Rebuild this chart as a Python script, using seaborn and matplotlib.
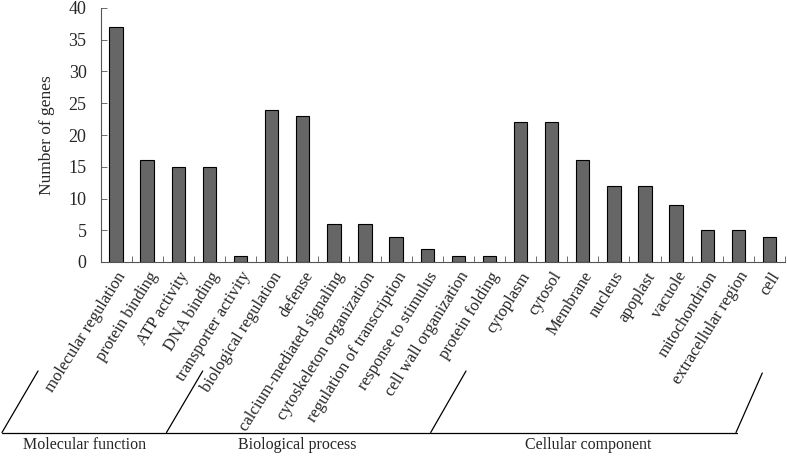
import numpy as np
import matplotlib
matplotlib.use("Agg")
import matplotlib.pyplot as plt
from matplotlib.lines import Line2D
import seaborn as sns

categories = ["molecular regulation", "protein binding", "ATP activity", "DNA binding",
              "transporter activity", "biological regulation", "defense",
              "calcium-mediated signaling", "cytoskeleton organization",
              "regulation of transcription", "response to stimulus",
              "cell wall organization", "protein folding", "cytoplasm", "cytosol",
              "Membrane", "nucleus", "apoplast", "vacuole", "mitochondrion",
              "extracellular region", "cell"]
counts = [37, 16, 15, 15, 1, 24, 23, 6, 6, 4, 2, 1, 1, 22, 22, 16, 12, 12, 9, 5, 5, 4]
groups = ["Molecular function", "Biological process", "Cellular component"]
yticks = [0, 5, 10, 15, 20, 25, 30, 35, 40]

sns.set_style("ticks")
plt.rcParams["font.family"] = ["Liberation Serif", "DejaVu Serif"]

W, H = 787, 457
fig = plt.figure(figsize=(W / 100, H / 100), dpi=100)
ax = fig.add_axes([100.5 / W, 1 - 262 / H, (785 - 100.5) / W, (262 - 8) / H])

sns.barplot(x=categories, y=counts, color="#666666", edgecolor="black",
            linewidth=0.8, width=0.43, saturation=1, ax=ax)

ax.set_xlim(-0.5, len(categories) - 0.5)
ax.set_ylim(0, 40)
ax.set_yticks(yticks)
ax.set_xticks(np.arange(-0.5, len(categories), 1), minor=True)
ax.set_xticks(range(len(categories)))
ax.set_xticklabels(categories, rotation=58, ha="right", rotation_mode="anchor",
                   fontsize=12)
ax.tick_params(axis="x", which="major", length=0, pad=5)
ax.tick_params(axis="x", which="minor", direction="in", length=4, width=0.6, color="#555555")
ax.tick_params(axis="y", direction="in", length=4, width=0.6, color="#555555",
               labelsize=13, pad=10)
ax.set_ylabel("Number of genes", fontsize=12.5, labelpad=10)
for s in ["top", "right"]:
    ax.spines[s].set_visible(False)
for s in ["left", "bottom"]:
    ax.spines[s].set_color("#555555")
    ax.spines[s].set_linewidth(0.8)


def px(x, y):
    return x / W, 1 - y / H


segs = [((2, 432.5), (737, 432.5)),
        ((2, 432.5), (38, 371)),
        ((166.5, 432.5), (202.7, 371)),
        ((430.7, 432.5), (466, 371)),
        ((736, 432.5), (762.3, 373))]
for (x0, y0), (x1, y1) in segs:
    a, b = px(x0, y0)
    c, d = px(x1, y1)
    fig.add_artist(Line2D([a, c], [b, d], color="black", linewidth=0.9))

for name, xc in zip(groups, [85, 297, 588]):
    fx, fy = px(xc, 445)
    fig.text(fx, fy, name, ha="center", va="center", fontsize=11.5)

fig.savefig("out.png", dpi=100)
